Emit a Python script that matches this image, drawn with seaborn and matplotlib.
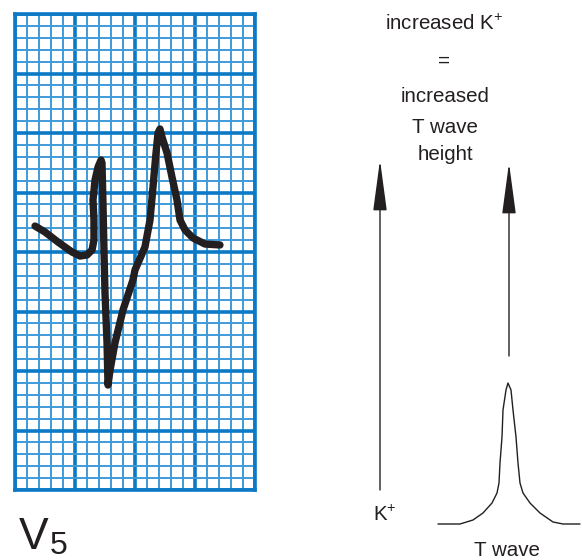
import matplotlib
matplotlib.use("Agg")
import matplotlib.pyplot as plt
import seaborn as sns
import pandas as pd

# ECG trace, lead V5, in mm of chart paper (x: time, y: amplitude)
ecg_x = [1.67, 2.50, 3.58, 4.75, 5.42, 6.00, 6.42, 6.58, 6.58, 6.50, 6.67, 6.92,
         7.17, 7.25, 7.33, 7.42, 7.50, 7.67, 7.75, 7.92, 8.33, 9.00, 9.83, 10.00,
         10.83, 11.25, 11.50, 11.75, 11.92, 12.08, 12.25, 12.67, 13.08, 13.50,
         13.75, 14.17, 14.83, 15.83, 17.08]
ecg_y = [22.18, 21.68, 20.84, 20.00, 19.66, 19.75, 20.17, 21.01, 22.69, 24.37, 26.05, 27.14,
         27.73, 27.48, 24.12, 19.92, 16.55, 12.35, 8.82, 10.08, 12.35, 15.13, 17.65, 18.49,
         20.42, 22.69, 25.46, 28.32, 30.00, 30.34, 29.66, 28.32, 26.30, 24.37,
         22.69, 21.85, 21.18, 20.67, 20.59]

# Schematic peaked T wave (time offset, height)
tw_x = [-70, -48, -35, -25, -16, -11, -9, -8, -6, -5, -2, 0, 3, 5, 8, 10, 12, 15, 22, 32, 45, 55, 72]
tw_y = [0, 0, 4, 11, 21, 31, 41, 61, 87, 114, 134, 141, 134, 114, 87, 61, 41, 31, 21, 11, 2, 0, 0]

# Texts
lead_label = "V"
lead_sub = "5"
title_lines = [r"increased K$^{\mathregular{+}}$", "=", "increased", "T wave", "height"]
axis_k = r"K$^{\mathregular{+}}$"
axis_t = "T wave"

sns.set_style("white")
plt.rcParams["font.family"] = ["Liberation Sans", "DejaVu Sans"]
plt.rcParams["mathtext.fontset"] = "custom"
plt.rcParams["mathtext.rm"] = "Liberation Sans"

ink = "#231f20"
major_c = "#0b79c6"
minor_c = "#3f9bd8"

W, H = 582, 560
fig = plt.figure(figsize=(W / 100, H / 100), dpi=100)

# ---- ECG paper panel ----
ax = fig.add_axes([15 / W, (H - 490) / H, 240 / W, 476 / H])
ax.set_xlim(0, 20)
ax.set_ylim(0, 40)
ax.set_xticks(range(0, 21, 5))
ax.set_xticks(range(0, 21), minor=True)
ax.set_yticks(range(0, 41, 5))
ax.set_yticks(range(0, 41), minor=True)
ax.tick_params(which="both", length=0, labelbottom=False, labelleft=False)
ax.grid(which="minor", color=minor_c, lw=1.4, zorder=0)
ax.grid(which="major", color=major_c, lw=2.6, zorder=0)
ax.set_axisbelow(True)
for s in ax.spines.values():
    s.set_color(major_c)
    s.set_linewidth(2.6)

ecg = pd.DataFrame({"t": ecg_x, "mv": ecg_y})
sns.lineplot(data=ecg, x="t", y="mv", sort=False, estimator=None, ax=ax,
             color=ink, lw=5.3, solid_capstyle="round", solid_joinstyle="round")
ax.set_xlabel("")
ax.set_ylabel("")

# ---- T wave panel ----
tax = fig.add_axes([430 / W, (H - 530) / H, 152 / W, 160 / H])
tax.set_xlim(-78, 74)
tax.set_ylim(-6, 154)
tw = pd.DataFrame({"t": tw_x, "h": tw_y})
sns.lineplot(data=tw, x="t", y="h", sort=False, estimator=None, ax=tax,
             color=ink, lw=1.0, solid_joinstyle="round")
tax.axis("off")
tax.patch.set_visible(False)

# ---- overlay for annotations (pixel coordinates) ----
ov = fig.add_axes([0, 0, 1, 1], zorder=-1)
ov.set_xlim(0, W)
ov.set_ylim(H, 0)
ov.axis("off")
ov.patch.set_visible(False)

fs = 14.8
ov.text(19, 549, lead_label, fontsize=32, color=ink, ha="left", va="baseline")
ov.text(50, 554, lead_sub, fontsize=23, color=ink, ha="left", va="baseline")

ov.text(444, 30, title_lines[0], fontsize=fs, color=ink, ha="center", va="baseline")
ov.text(444, 61, title_lines[1], fontsize=fs, color=ink, ha="center", va="center")
ov.text(445, 102, title_lines[2], fontsize=fs, color=ink, ha="center", va="baseline")
ov.text(445, 133, title_lines[3], fontsize=fs, color=ink, ha="center", va="baseline")
ov.text(445, 160, title_lines[4], fontsize=fs, color=ink, ha="center", va="baseline")

ov.text(373, 521, axis_k, fontsize=fs, color=ink, ha="left", va="baseline")
ov.text(507, 556, axis_t, fontsize=fs, color=ink, ha="center", va="baseline")

arrow_style = dict(arrowstyle="-|>,head_length=3.2,head_width=0.43", mutation_scale=10,
                   lw=1.0, color=ink, shrinkA=0, shrinkB=0)
ov.annotate("", xy=(380, 160), xytext=(380, 490), arrowprops=arrow_style)
ov.annotate("", xy=(509, 163), xytext=(509, 356), arrowprops=arrow_style)

fig.savefig("out.png", dpi=100, facecolor="white")
